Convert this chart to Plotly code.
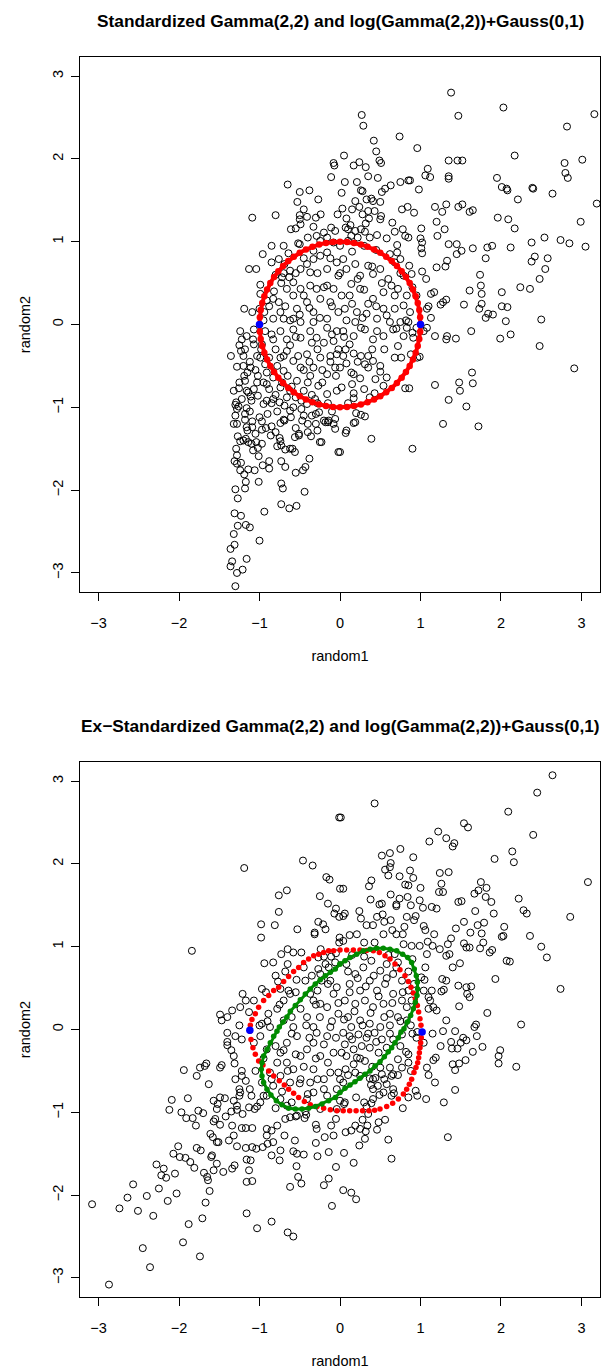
import plotly.graph_objects as go

FONT = "Liberation Sans"
TITLE_TOP = "Standardized Gamma(2,2) and log(Gamma(2,2))+Gauss(0,1)"
TITLE_BOTTOM = "Ex\u2212Standardized Gamma(2,2) and log(Gamma(2,2))+Gauss(0,1)"
X_LABEL = "random1"
Y_LABEL = "random2"
TICK_VALS = [-3, -2, -1, 0, 1, 2, 3]
TICK_TEXT = ["\u22123", "\u22122", "\u22121", "0", "1", "2", "3"]

# ---------------- top panel scatter (random1, random2) ----------------
top_upper_right = [
    (1.38, 2.80), (2.03, 2.62), (3.16, 2.54), (0.27, 2.53), (1.47, 2.52), (0.29, 2.40), (2.82, 2.39),
    (0.74, 2.27), (0.42, 2.22), (0.96, 2.13), (0.45, 2.09), (0.05, 2.04), (2.17, 2.04), (0.49, 1.98),
    (0.51, 1.95), (0.17, 1.92), (0.24, 1.96), (0.32, 1.90), (1.35, 1.98), (1.46, 1.98), (1.52, 1.98),
    (1.09, 1.88), (2.79, 1.95), (3.01, 1.99), (2.80, 1.83), (2.83, 1.77), (0.35, 1.79), (0.47, 1.77),
    (1.06, 1.80), (1.12, 1.78), (1.35, 1.79), (1.35, 1.76), (1.95, 1.77), (0.06, 1.72), (0.21, 1.72),
    (0.75, 1.72), (0.85, 1.74), (0.87, 1.74), (0.98, 1.63), (2.01, 1.66), (2.07, 1.64), (2.08, 1.62),
    (2.39, 1.65), (2.40, 1.64), (2.21, 1.51), (2.64, 1.58), (3.19, 1.46), (0.52, 1.60), (0.56, 1.64),
    (0.63, 1.68), (0.26, 1.62), (0.28, 1.61), (0.02, 1.59), (0.19, 1.49), (0.33, 1.51), (0.39, 1.52),
    (0.41, 1.49), (0.50, 1.48), (0.03, 1.40), (0.15, 1.39), (0.24, 1.42), (0.35, 1.37), (0.43, 1.37),
    (0.77, 1.39), (0.84, 1.42), (0.92, 1.35), (1.18, 1.42), (1.27, 1.36), (1.32, 1.45), (1.47, 1.42),
    (1.52, 1.45), (1.61, 1.36), (1.65, 1.38), (1.96, 1.29), (2.09, 1.27), (2.17, 1.16), (2.99, 1.24),
    (0.08, 1.28), (0.28, 1.33), (0.36, 1.28), (0.50, 1.27), (0.51, 1.31), (0.65, 1.23), (1.01, 1.16),
    (1.20, 1.24), (1.21, 1.07), (1.30, 1.15), (0.07, 1.17), (0.13, 1.20), (0.19, 1.13), (0.26, 1.15),
    (0.31, 1.12), (0.68, 1.12), (0.78, 1.15), (0.85, 1.05), (0.81, 1.07), (1.00, 1.04), (1.01, 0.92),
    (1.02, 0.99), (1.02, 0.86), (1.35, 0.97), (1.45, 0.97), (1.51, 0.89), (1.45, 0.85), (1.65, 0.92),
    (1.83, 0.93), (1.89, 0.95), (2.12, 0.93), (2.38, 0.99), (2.54, 1.05), (2.74, 1.02), (2.85, 0.98),
    (3.05, 0.94), (1.81, 0.80), (2.38, 0.76), (2.42, 0.82), (2.58, 0.80), (2.55, 0.67), (2.48, 0.55),
    (1.20, 0.69), (1.31, 0.70), (1.33, 0.77), (1.74, 0.60), (1.75, 0.47), (1.76, 0.37), (2.24, 0.45),
    (2.36, 0.43), (1.61, 0.41), (2.01, 0.39), (1.54, 0.24), (1.76, 0.25), (1.73, 0.19), (1.84, 0.13),
    (1.90, 0.12), (2.01, 0.22), (2.08, 0.21), (2.06, 0.04), (2.50, 0.06), (1.81, 0.08), (1.13, 0.37),
    (1.17, 0.39), (1.25, 0.24), (1.28, 0.27), (1.32, 0.30), (1.07, 0.55), (1.02, 0.64), (1.10, 0.22),
    (1.13, 0.08), (1.08, 0.19),
]
top_upper_inner = [
    (0.68, 0.75), (0.71, 0.87), (0.75, 0.79), (0.86, 0.71), (0.89, 0.61), (0.71, 0.96), (0.58, 1.04),
    (0.46, 1.08), (0.37, 1.05), (0.22, 1.05), (0.14, 1.07), (0.10, 1.01), (0.04, 0.79), (0.08, 0.67),
    (0.19, 0.73), (0.25, 0.59), (0.35, 0.71), (0.41, 0.61), (0.50, 0.67), (0.60, 0.55), (0.64, 0.47),
    (0.72, 0.43), (0.79, 0.59), (0.54, 0.39), (0.41, 0.31), (0.25, 0.43), (0.12, 0.35), (0.06, 0.19),
    (0.21, 0.15), (0.33, 0.13), (0.46, 0.07), (0.58, 0.11), (0.68, 0.19), (0.79, 0.23), (0.87, 0.15),
    (0.95, 0.35), (0.83, 0.35), (0.19, 0.03), (0.62, 0.03), (0.54, 0.19), (0.35, 0.25), (0.14, 0.49),
    (0.75, 0.03), (0.85, 0.03), (0.00, 0.95),
]
top_lower_right = [
    (2.91, -0.53), (2.48, -0.26), (1.99, -0.17), (2.12, -0.12), (1.63, -0.08), (1.44, -0.17),
    (1.32, -0.18), (1.33, -0.14), (1.18, -0.14), (1.64, -0.58), (1.65, -0.71), (1.48, -0.70),
    (1.49, -0.80), (1.18, -0.73), (1.35, -0.91), (1.57, -0.99), (1.28, -1.20), (1.72, -1.23),
    (0.90, -1.50), (0.39, -1.38), (0.81, -0.77), (0.86, -0.77), (0.99, -0.39), (0.96, -0.40),
    (0.68, -0.40), (0.76, -0.40), (0.72, -0.26), (0.88, -0.36), (0.58, -0.64), (0.54, -0.74),
    (0.44, -0.66), (0.43, -0.83), (0.37, -0.88), (0.20, -1.07), (0.26, -1.09), (0.31, -1.11),
    (0.17, -1.19), (0.19, -1.18), (0.08, -1.28), (0.07, -1.31), (0.00, -1.54), (0.17, -0.83),
    (0.17, -0.89), (0.15, -0.72), (0.14, -0.58), (0.17, -0.60), (0.50, -0.50), (0.50, -0.57),
    (0.35, -0.52), (0.31, -0.48), (0.41, -0.44), (0.26, -0.38), (0.35, -0.38), (0.17, -0.35),
    (0.07, -0.30), (0.04, -0.38), (0.08, -0.47), (0.00, -0.52), (0.02, -0.76), (0.91, -0.16),
    (0.90, -0.10), (0.95, -0.04), (1.04, -0.08), (1.08, -0.04), (0.66, -0.06), (0.79, -0.14),
    (0.83, -0.04), (0.54, -0.14), (0.46, -0.08), (0.41, -0.18), (0.31, -0.06), (0.26, -0.04),
    (0.17, -0.14), (0.12, -0.24), (0.04, -0.08),
]
top_lower_left = [
    (-1.30, -3.16), (-1.36, -2.92), (-1.28, -3.00), (-1.21, -2.96), (-1.34, -2.86), (-1.16, -2.83),
    (-1.36, -2.71), (-1.31, -2.66), (-1.32, -2.53), (-1.00, -2.61), (-1.27, -2.43), (-1.17, -2.42),
    (-1.12, -2.45), (-1.31, -2.28), (-1.23, -2.31), (-0.94, -2.26), (-0.73, -2.17), (-0.63, -2.22),
    (-0.54, -2.19), (-1.30, -1.99), (-1.27, -2.10), (-1.18, -1.98), (-1.17, -1.90), (-1.01, -1.90),
    (-0.73, -1.92), (-0.71, -1.98), (-0.44, -2.02), (-1.19, -1.81), (-1.24, -1.76), (-1.28, -1.68),
    (-1.31, -1.65), (-1.23, -1.67), (-1.14, -1.75), (-1.06, -1.76), (-0.96, -1.70), (-0.88, -1.74),
    (-0.88, -1.65), (-0.68, -1.72), (-0.73, -1.65), (-0.55, -1.79), (-0.46, -1.76), (-0.43, -1.72),
    (-0.38, -1.62), (-1.28, -1.58), (-1.29, -1.50), (-1.24, -1.41), (-1.14, -1.42), (-1.10, -1.44),
    (-1.08, -1.52), (-1.02, -1.49), (-0.97, -1.44), (-1.04, -1.42), (-1.01, -1.59), (-1.27, -1.35),
    (-1.20, -1.40), (-1.17, -1.38), (-0.78, -1.47), (-0.68, -1.51), (-0.62, -1.50), (-0.59, -1.50),
    (-0.56, -1.54), (-0.51, -1.34), (-0.56, -1.36), (-0.75, -1.37), (-0.73, -1.46), (-0.86, -1.34),
    (-0.80, -1.30), (-0.74, -1.41), (-0.36, -1.35), (-0.25, -1.42), (-0.23, -1.42), (-0.02, -1.54),
    (-1.32, -1.20), (-1.28, -1.20), (-1.16, -1.24), (-1.15, -1.28), (-1.30, -1.10), (-1.28, -1.02),
    (-1.16, -1.01), (-1.09, -1.17), (-1.09, -1.24), (-0.97, -1.17), (-0.97, -1.27), (-0.85, -1.23),
    (-0.74, -1.19), (-0.69, -1.16), (-0.61, -1.12), (-0.51, -1.32), (-0.47, -1.16), (-0.40, -1.20),
    (-0.30, -1.20), (-0.28, -1.28), (-0.18, -1.18), (-0.14, -1.16), (-0.06, -1.14), (-0.06, -1.26),
    (-1.355, -0.38), (-1.28, -0.51), (-1.23, -0.32), (-1.20, -0.38), (-1.19, -0.62), (-1.255, -0.77),
    (-1.29, -0.94), (-1.26, -0.99), (-1.30, -0.97), (-1.18, -1.08), (-1.16, -0.80), (-1.11, -0.87),
    (-1.10, -0.92), (-1.02, -0.86), (-0.95, -0.96), (-0.91, -0.92), (-0.83, -0.90), (-0.75, -0.94),
    (-0.69, -0.98), (-0.58, -1.00), (-0.48, -1.02), (-0.41, -0.96), (-0.35, -1.10), (-0.26, -1.06),
    (-0.20, -1.16), (-0.15, -1.18), (-0.08, -1.20),
]
top_lower_inner = [
    (-1.24, -0.08), (-1.16, -0.14), (-1.07, -0.06), (-1.22, -0.18), (-1.07, -0.24), (-1.03, -0.38),
    (-0.93, -0.48), (-0.91, -0.58), (-0.83, -0.64), (-0.91, -0.72), (-1.07, -0.78), (-0.99, -0.40),
    (-0.83, -0.18), (-0.74, -0.08), (-0.66, -0.18), (-0.58, -0.06), (-0.49, -0.16), (-0.37, -0.08),
    (-0.29, -0.16), (-0.16, -0.04), (-0.08, -0.20), (-0.12, -0.38), (-0.04, -0.36), (-0.245, -0.40),
    (-0.33, -0.52), (-0.37, -0.62), (-0.16, -0.60), (-0.06, -0.52), (-0.27, -0.74), (-0.16, -0.84),
    (-0.04, -0.80), (-0.74, -0.40), (-0.66, -0.32), (-0.58, -0.44), (-0.49, -0.52), (-0.41, -0.36),
    (-0.70, -0.56), (-0.535, -0.68), (-0.74, -0.76), (-0.62, -0.80), (-0.45, -0.80), (-0.80, -0.30),
    (-0.93, -0.08), (-0.04, -0.08), (-0.66, -0.88), (-0.31, -0.90), (-1.03, -0.70), (-1.11, -0.52),
    (-1.18, -0.68), (-0.97, -0.24),
]
top_upper_left = [
    (-0.08, 1.95), (-0.07, 1.92), (-0.11, 1.78), (-0.65, 1.69), (-0.50, 1.60), (-0.38, 1.62),
    (-0.53, 1.48), (-0.27, 1.51), (-0.45, 1.39), (-1.09, 1.29), (-0.80, 1.32), (-0.50, 1.32),
    (-0.50, 1.27), (-0.41, 1.30), (-0.30, 1.29), (-0.24, 1.33), (-0.03, 1.33), (-0.49, 1.21),
    (-0.61, 1.15), (-0.55, 1.16), (-0.33, 1.18), (-0.11, 1.17), (-0.20, 1.11), (-0.06, 1.13),
    (-0.52, 0.98), (-0.50, 0.97), (-0.96, 0.85), (-1.13, 0.67), (-1.04, 0.67), (-0.85, 0.75),
    (-0.76, 0.79), (-0.69, 0.73), (-0.64, 0.86), (-0.99, 0.48), (-0.99, 0.37), (-1.19, 0.19),
    (-1.09, 0.15), (-1.00, 0.19), (-0.94, 0.15), (-0.91, 0.29), (-0.83, 0.31), (-0.76, 0.27),
    (-0.73, 0.50), (-0.72, 0.57), (-0.63, 0.57), (-0.62, 0.65), (-0.58, 0.51), (-0.49, 0.67),
    (-0.41, 0.73), (-0.33, 0.79), (-0.245, 0.83), (-0.16, 0.87), (-0.245, 1.01), (-0.33, 0.89),
    (-0.29, 1.07), (-0.16, 1.05), (-0.08, 0.99), (-0.66, 0.43), (-0.58, 0.35), (-0.49, 0.43),
    (-0.37, 0.47), (-0.29, 0.43), (-0.16, 0.47), (-0.08, 0.43), (-0.02, 0.59), (-0.37, 0.63),
    (-0.16, 0.67), (-0.04, 0.75), (-0.535, 0.19), (-0.41, 0.27), (-0.33, 0.15), (-0.245, 0.31),
    (-0.12, 0.27), (-0.02, 0.15), (-0.70, 0.07), (-0.74, 0.15), (-0.83, 0.07), (-0.58, 0.07),
    (-0.49, 0.03), (-0.33, 0.03), (-0.16, 0.07),
]
# estimated positions in the densest, overlapping part of the top cloud
top_core = [
    (-1.25, -0.25), (-1.18, -0.30), (-1.12, -0.45), (-1.05, -0.55), (-1.20, -0.50), (-1.15, -0.58),
    (-1.02, -0.62), (-0.95, -0.70), (-0.88, -0.78), (-0.80, -0.85), (-0.72, -0.70), (-0.65, -0.62),
    (-0.60, -0.75), (-0.55, -0.88), (-0.48, -0.92), (-0.40, -0.70), (-0.35, -0.85), (-0.28, -0.95),
    (-0.22, -0.70), (-0.15, -0.95), (-0.10, -1.05), (-0.30, -1.08), (-0.45, -1.10), (-0.62, -1.04),
    (-0.78, -1.05), (-0.90, -1.08), (-1.00, -1.12), (-1.12, -1.05), (-1.22, -0.90), (-1.14, -0.82),
    (-0.98, -0.30), (-0.88, -0.40), (-0.78, -0.50), (-0.70, -0.38), (-0.62, -0.25), (-0.52, -0.38),
    (-0.45, -0.55), (-0.38, -0.45), (-0.28, -0.30), (-0.20, -0.22), (-0.12, -0.45), (-0.05, -0.62),
    (-0.22, -0.55), (-0.85, -0.95), (-0.70, -1.15), (-0.55, -1.25), (-0.40, -1.30), (-0.92, -1.25),
    (-1.05, -1.32), (-1.18, -1.15), (-1.25, -0.70), (-1.32, -0.80), (-1.08, -0.18), (-0.85, -0.12),
    (-0.55, -0.15), (-0.35, -0.22), (-0.10, -0.12), (-0.02, -0.30), (-0.95, 0.05), (-0.88, 0.22),
    (-0.82, 0.40), (-0.68, 0.22), (-0.62, 0.05), (-0.50, 0.12), (-0.45, 0.35), (-0.38, 0.20),
    (-0.25, 0.08), (-0.20, 0.45), (-0.10, 0.22), (0.02, 0.35), (0.08, 0.05), (0.15, 0.25),
    (0.28, 0.08), (0.30, 0.42), (0.45, 0.22), (0.52, 0.50), (0.68, 0.35), (0.75, 0.62),
    (0.62, 0.85), (0.45, 0.90), (0.30, 0.95), (0.15, 0.88), (0.00, 0.62), (-0.12, 0.80),
    (-0.28, 0.62), (-0.45, 0.80), (-0.55, 0.62), (-0.70, 0.62), (-0.80, 0.60), (0.22, 0.55),
    (0.40, 0.70), (0.10, 1.15), (0.32, 1.22), (-0.40, 1.05), (-0.70, 0.95), (-0.85, 0.95),
    (0.90, 0.45), (0.82, 0.05), (0.70, -0.05), (0.55, -0.30), (0.22, -0.45), (0.05, -0.15),
    (0.40, -0.30), (0.25, -0.65), (0.10, -0.95), (0.30, -0.78),
]

circle_x = [1.000, 0.996, 0.985, 0.966, 0.940, 0.906, 0.866, 0.819, 0.766, 0.707, 0.643, 0.574, 0.500, 0.423,
            0.342, 0.259, 0.174, 0.087, 0.000, -0.087, -0.174, -0.259, -0.342, -0.423, -0.500, -0.574, -0.643,
            -0.707, -0.766, -0.819, -0.866, -0.906, -0.940, -0.966, -0.985, -0.996, -1.000, -0.996, -0.985,
            -0.966, -0.940, -0.906, -0.866, -0.819, -0.766, -0.707, -0.643, -0.574, -0.500, -0.423, -0.342,
            -0.259, -0.174, -0.087, 0.000, 0.087, 0.174, 0.259, 0.342, 0.423, 0.500, 0.574, 0.643, 0.707,
            0.766, 0.819, 0.866, 0.906, 0.940, 0.966, 0.985, 0.996, 1.000]
circle_y = [0.000, 0.087, 0.174, 0.259, 0.342, 0.423, 0.500, 0.574, 0.643, 0.707, 0.766, 0.819, 0.866, 0.906,
            0.940, 0.966, 0.985, 0.996, 1.000, 0.996, 0.985, 0.966, 0.940, 0.906, 0.866, 0.819, 0.766, 0.707,
            0.643, 0.574, 0.500, 0.423, 0.342, 0.259, 0.174, 0.087, 0.000, -0.087, -0.174, -0.259, -0.342,
            -0.423, -0.500, -0.574, -0.643, -0.707, -0.766, -0.819, -0.866, -0.906, -0.940, -0.966, -0.985,
            -0.996, -1.000, -0.996, -0.985, -0.966, -0.940, -0.906, -0.866, -0.819, -0.766, -0.707, -0.643,
            -0.574, -0.500, -0.423, -0.342, -0.259, -0.174, -0.087, 0.000]
top_blue_x = [-1.0, 1.0]
top_blue_y = [0.0, 0.0]

# ---------------- bottom panel scatter ----------------
bot_upper_right = [
    (2.64, 3.07), (2.45, 2.86), (2.09, 2.63), (0.43, 2.73), (0.01, 2.56), (1.54, 2.49), (1.59, 2.44),
    (2.40, 2.35), (1.22, 2.39), (1.32, 2.31), (1.11, 2.27), (1.42, 2.25), (1.40, 2.21), (2.14, 2.15),
    (2.16, 2.02), (1.92, 2.06), (3.08, 1.78), (0.52, 2.10), (0.62, 2.13), (0.75, 2.18), (0.91, 2.08),
    (0.63, 2.01), (0.62, 1.96), (0.56, 1.93), (0.60, 1.86), (0.87, 1.92), (0.74, 1.85), (0.91, 1.83),
    (1.24, 1.89), (1.35, 1.90), (0.39, 1.80), (0.36, 1.73), (0.81, 1.75), (0.85, 1.74), (1.00, 1.71),
    (1.26, 1.76), (1.23, 1.66), (1.28, 1.66), (1.75, 1.78), (1.82, 1.71), (1.72, 1.68), (1.67, 1.64),
    (1.81, 1.60), (0.04, 1.70), (0.63, 1.63), (0.74, 1.58), (0.84, 1.60), (0.99, 1.56), (0.88, 1.50),
    (0.52, 1.52), (0.49, 1.51), (0.38, 1.57), (0.70, 1.49), (0.70, 1.51), (1.03, 1.47), (1.14, 1.48),
    (1.20, 1.46), (1.47, 1.54), (1.51, 1.55), (1.88, 1.54), (1.91, 1.40), (1.68, 1.43), (2.22, 1.58),
    (2.28, 1.44), (2.32, 1.40), (2.86, 1.36), (2.36, 1.13), (2.50, 1.00), (2.57, 0.87), (2.74, 0.49),
    (1.93, 0.61), (2.07, 0.83), (2.11, 0.82), (2.04, 1.24), (2.01, 1.12), (2.03, 1.13), (1.79, 1.29),
    (1.71, 1.26), (1.76, 1.16), (1.78, 1.05), (1.89, 0.96), (1.86, 0.93), (1.74, 0.98), (1.61, 0.99),
    (1.57, 0.99), (1.54, 1.30), (1.62, 1.17), (1.54, 1.04), (1.44, 1.22), (1.38, 1.10), (1.49, 0.80),
    (1.40, 0.75), (1.36, 0.91), (1.32, 0.89), (1.34, 1.03), (1.24, 0.97), (1.83, 0.20), (1.69, 0.06),
    (1.67, 0.03), (1.48, 0.28), (1.61, 0.39), (1.58, 0.43), (1.63, 0.52), (1.57, 0.51), (1.47, 0.53),
    (1.32, 0.59), (1.29, 0.48), (1.26, 0.46), (1.27, 0.61), (2.25, 0.06), (1.32, 0.11), (1.20, 0.23),
    (1.16, 0.27), (1.12, 0.35), (1.10, 0.39), (1.14, 0.47), (1.04, 0.47), (1.01, 0.63), (1.06, 0.75),
    (1.08, 0.91), (1.15, 1.01), (1.17, 1.15), (1.09, 1.06), (0.99, 1.01), (0.94, 1.37), (1.04, 1.25),
    (1.06, 1.20), (0.92, 1.32), (0.83, 1.36), (0.80, 1.24), (0.78, 1.15), (0.65, 1.20), (0.63, 1.32),
    (0.55, 1.30), (0.53, 1.39), (0.46, 1.36), (0.41, 1.26), (0.33, 1.26), (0.26, 1.34), (0.24, 1.43),
    (0.06, 1.40), (0.04, 1.37), (0.12, 1.14), (0.21, 1.15), (0.04, 1.07), (0.43, 1.05), (0.30, 1.05),
    (0.54, 1.15), (0.70, 1.15), (0.79, 1.03), (0.89, 1.01), (0.68, 0.91), (0.72, 0.81),
]
bot_upper_inner = [
    (0.08, 0.79), (0.19, 0.67), (0.29, 0.75), (0.39, 0.83), (0.50, 0.71), (0.58, 0.79), (0.66, 0.67),
    (0.77, 0.59), (0.85, 0.47), (0.12, 0.55), (0.25, 0.47), (0.37, 0.59), (0.46, 0.47), (0.56, 0.55),
    (0.66, 0.43), (0.77, 0.35), (0.06, 0.35), (0.19, 0.31), (0.31, 0.35), (0.41, 0.27), (0.54, 0.31),
    (0.62, 0.19), (0.72, 0.15), (0.83, 0.11), (0.10, 0.15), (0.25, 0.11), (0.37, 0.07), (0.50, 0.03),
    (0.62, 0.05), (0.14, 0.03), (0.83, 0.27), (0.89, 0.35),
]
bot_lower_right = [
    (2.19, -0.45), (1.99, -0.25), (1.97, -0.32), (1.97, -0.41), (1.77, -0.21), (1.70, -0.08),
    (1.65, -0.27), (1.56, -0.37), (1.48, -0.41), (1.40, -0.42), (1.43, -0.49), (1.25, -0.20),
    (1.38, -0.15), (1.39, -0.23), (1.46, -0.23), (1.50, -0.16), (1.53, -0.10), (1.57, -0.13),
    (1.43, -0.02), (1.28, -0.02), (1.43, -0.73), (1.18, -0.64), (1.29, -0.88), (1.34, -1.30),
    (1.07, -0.84), (0.96, -0.80), (0.94, -0.74), (1.08, -0.46), (1.04, -0.16), (0.96, -0.03),
    (0.90, -0.05), (1.19, -0.34), (1.16, -0.37), (0.85, -0.82), (0.78, -0.95), (0.60, -1.33),
    (0.64, -1.56), (0.56, -1.09), (0.48, -1.12), (0.46, -1.21), (0.28, -1.09), (0.34, -1.16),
    (0.32, -1.23), (0.31, -1.32), (0.19, -1.16), (0.25, -1.20), (0.14, -1.22), (0.07, -1.24),
    (0.24, -1.40), (0.05, -1.49), (0.17, -1.61), (0.04, -1.94), (0.14, -1.97), (0.20, -2.05),
    (0.72, -0.36), (0.82, -0.27), (0.77, -0.46), (0.88, -0.50), (0.85, -0.40), (0.66, -0.72),
    (0.67, -0.77), (0.64, -0.80), (0.54, -0.76), (0.49, -0.79), (0.41, -0.84), (0.30, -0.88),
    (0.33, -0.93), (0.39, -0.89), (0.41, -0.72), (0.385, -0.67), (0.47, -0.68), (0.52, -0.54),
    (0.50, -0.46), (0.62, -0.46), (0.66, -0.54), (0.64, -0.56), (0.58, -0.66), (0.41, -0.60),
    (0.37, -0.59), (0.44, -0.585), (0.25, -0.56), (0.19, -0.52), (0.17, -0.42), (0.07, -0.48),
    (0.04, -0.64), (0.00, -0.86), (0.06, -0.88), (0.04, -0.04), (0.12, -0.08), (0.23, -0.06),
    (0.33, -0.10), (0.43, -0.04), (0.52, -0.12), (0.06, -0.18), (0.17, -0.24), (0.27, -0.20),
    (0.37, -0.22), (0.48, -0.28), (0.08, -0.32), (0.21, -0.34), (0.31, -0.38), (0.58, -0.22),
    (0.66, -0.12), (0.77, -0.06),
]
bot_lower_left = [
    (-2.87, -3.08), (-3.08, -2.11), (-2.74, -2.16), (-2.64, -2.03), (-2.57, -1.87), (-2.51, -2.19),
    (-2.40, -2.01), (-2.32, -2.25), (-2.25, -1.92), (-2.14, -2.07), (-2.03, -1.98), (-2.45, -2.64),
    (-2.36, -2.87), (-1.95, -2.57), (-1.74, -2.74), (-1.88, -2.35), (-1.71, -2.28), (-1.67, -2.09),
    (-1.62, -1.95), (-1.16, -2.22), (-1.03, -2.40), (-0.85, -2.32), (-0.65, -2.45), (-0.58, -2.50),
    (-0.10, -2.13), (-2.28, -1.63), (-2.19, -1.68), (-2.22, -1.76), (-2.16, -1.79), (-2.05, -1.74),
    (-2.07, -1.50), (-2.01, -1.41), (-1.99, -1.54), (-1.92, -1.55), (-1.86, -1.60), (-1.81, -1.67),
    (-1.78, -1.43), (-1.73, -1.46), (-1.69, -1.73), (-1.64, -1.82), (-1.65, -1.78), (-1.59, -1.52),
    (-1.60, -1.54), (-1.53, -1.62), (-1.57, -1.70), (-1.45, -1.72), (-1.34, -1.68), (-1.31, -1.64),
    (-1.16, -1.57), (-1.11, -1.58), (-1.13, -1.70), (-1.16, -1.84), (-1.09, -1.83), (-0.62, -1.90),
    (-0.54, -1.65), (-0.52, -1.78), (-0.48, -1.86), (-0.45, -1.51), (-0.20, -1.88), (-0.14, -1.80),
    (-0.05, -1.66), (-0.85, -1.52), (-0.74, -1.46), (-0.75, -1.58), (-0.69, -1.28), (-0.56, -1.34),
    (-0.535, -1.50), (-0.58, -1.47), (-0.28, -1.53), (-0.30, -1.37), (-0.14, -1.48), (-0.19, -1.30),
    (-0.08, -1.28), (-2.12, -0.97), (-2.09, -0.85), (-1.89, -0.83), (-1.97, -1.00), (-1.91, -1.07),
    (-1.83, -1.07), (-1.79, -1.16), (-1.76, -0.98), (-1.70, -1.01), (-1.63, -0.66), (-1.78, -0.56),
    (-1.94, -0.49), (-1.74, -0.46), (-1.66, -0.41), (-1.68, -0.44), (-1.57, -0.86), (-1.52, -0.90),
    (-1.55, -1.08), (-1.57, -1.11), (-1.49, -1.15), (-1.42, -1.05), (-1.35, -0.99), (-1.28, -0.97),
    (-1.28, -0.92), (-1.21, -1.02), (-1.34, -1.16), (-1.38, -1.34), (-1.32, -1.28), (-1.28, -1.41),
    (-1.22, -1.19), (-1.17, -1.19), (-1.09, -1.19), (-1.03, -0.93), (-1.06, -0.96), (-1.13, -0.94),
    (-1.61, -1.26), (-1.58, -1.30), (-1.53, -1.36), (-1.51, -1.36), (-1.40, -0.19), (-1.40, -0.15),
    (-1.30, -0.08), (-1.22, -0.12), (-1.40, -0.04), (-1.32, -0.32), (-1.47, -0.43), (-1.49, -0.46),
    (-1.31, -0.41), (-1.22, -0.50), (-1.22, -0.56), (-1.17, -0.62), (-1.12, -0.72), (-1.25, -0.72),
    (-1.24, -0.76), (-1.25, -0.80), (-1.32, -0.86), (-1.43, -0.83), (-1.53, -0.96), (-1.49, -0.82),
    (-1.17, -1.43), (-1.09, -1.42), (-1.04, -1.44), (-0.96, -1.42), (-0.90, -1.38), (-0.91, -1.28),
    (-0.85, -1.22), (-0.78, -1.16), (-0.83, -1.36), (-0.91, -1.20), (-0.68, -1.08), (-0.62, -1.06),
    (-0.535, -1.04), (-0.44, -1.07), (-0.42, -1.03), (-0.43, -0.99), (-0.29, -1.20), (-0.11, -1.16),
    (-0.05, -1.08),
]
bot_lower_inner = [
    (-1.07, -0.16), (-0.99, -0.08), (-0.91, -0.24), (-0.78, -0.40), (-0.74, -0.28), (-0.66, -0.40),
    (-0.58, -0.48), (-0.535, -0.08), (-0.49, -0.32), (-0.41, -0.24), (-0.33, -0.16), (-0.245, -0.32),
    (-0.16, -0.08), (-0.08, -0.28), (-0.02, -0.52), (-0.12, -0.52), (-0.20, -0.60), (-0.33, -0.48),
    (-0.37, -0.64), (-0.49, -0.60), (-0.62, -0.64), (-0.74, -0.56), (-0.83, -0.68), (-0.91, -0.80),
    (-0.99, -0.88), (-0.74, -0.84), (-0.66, -0.92), (-0.41, -0.84), (-0.33, -0.76), (-0.16, -0.80),
    (-0.04, -0.72), (-0.04, -0.96), (-0.245, -0.96), (-0.87, -0.52), (-0.97, -0.64), (-0.66, -0.16),
    (-0.29, -0.04),
]
bot_upper_left = [
    (-0.01, 2.56), (-1.19, 1.95), (-0.46, 2.04), (-0.34, 1.98), (-0.17, 1.84), (-0.13, 1.81),
    (-0.66, 1.68), (-0.76, 1.62), (-0.25, 1.61), (-0.15, 1.52), (-0.76, 1.42), (-0.05, 1.46),
    (-0.07, 1.40), (-0.01, 1.36), (-0.27, 1.30), (-0.21, 1.27), (-0.18, 1.21), (-0.315, 1.17),
    (-0.315, 1.15), (-0.53, 1.21), (-0.98, 1.27), (-0.81, 1.26), (-0.98, 1.11), (-1.84, 0.95),
    (-0.94, 0.80), (-0.83, 0.81), (-0.73, 0.91), (-0.65, 0.97), (-0.58, 0.93), (-0.48, 0.93),
    (-0.65, 0.79), (-0.24, 0.97), (-0.11, 0.88), (-0.01, 1.05), (-0.005, 1.11), (0.00, 1.70),
    (-0.97, 0.49), (-1.21, 0.43), (-1.07, 0.35), (-1.24, 0.27), (-1.17, 0.35), (-1.13, 0.21),
    (-1.49, 0.18), (-1.47, 0.11), (-1.40, 0.15), (-1.34, 0.23), (-0.77, 0.58), (-0.74, 0.49),
    (-0.64, 0.47), (-0.62, 0.43), (-0.54, 0.60), (-0.43, 0.59), (-0.37, 0.43), (-0.28, 0.47),
    (-0.23, 0.59), (-0.12, 0.59), (-0.04, 0.51), (-0.89, 0.19), (-0.78, 0.25), (-0.70, 0.35),
    (-0.60, 0.15), (-0.49, 0.25), (-0.41, 0.15), (-0.33, 0.35), (-0.245, 0.31), (-0.16, 0.27),
    (-0.08, 0.43), (-0.02, 0.19), (-0.70, 0.11), (-0.58, 0.03), (-0.33, 0.03), (-0.12, 0.03),
    (-0.97, 0.07), (-0.87, 0.03), (-0.27, 0.87), (-0.18, 0.79), (-0.27, 0.73), (-0.245, 0.67),
    (-0.14, 0.75), (-0.06, 0.81),
]
# estimated positions in the densest, overlapping part of the bottom cloud
bot_core = [
    (-1.05, -0.50), (-0.95, -0.35), (-0.85, -0.60), (-0.80, -0.20), (-0.72, -0.75), (-0.65, -0.50),
    (-0.60, -0.05), (-0.55, -0.30), (-0.50, -0.65), (-0.45, -0.45), (-0.42, 0.05), (-0.38, -0.10),
    (-0.30, -0.35), (-0.28, -0.60), (-0.25, 0.15), (-0.20, -0.18), (-0.15, -0.40), (-0.10, 0.10),
    (-0.05, -0.10), (-0.02, 0.32), (0.02, -0.28), (0.05, 0.12), (0.10, -0.55), (0.12, 0.45),
    (0.15, -0.12), (0.18, 0.22), (0.22, 0.62), (0.25, -0.35), (0.28, 0.05), (0.32, 0.52),
    (0.35, -0.05), (0.38, 0.20), (0.42, 0.65), (0.45, -0.15), (0.48, 0.40), (0.55, 0.15),
    (0.58, 0.62), (0.62, -0.05), (0.65, 0.32), (0.70, 0.75), (0.75, 0.10), (0.78, 0.45),
    (0.85, 0.70), (0.88, 0.05), (0.92, 0.55), (-0.90, 0.10), (-0.75, 0.30), (-0.68, 0.70),
    (-0.55, 0.45), (-0.45, 0.75), (-0.35, 0.65), (-0.20, 0.88), (-0.05, 0.92), (0.15, 0.90),
    (0.30, 0.88), (-0.95, -0.80), (-0.80, -0.95), (-0.60, -0.88), (-0.40, -0.78), (-0.20, -0.72),
    (0.00, -0.60), (0.20, -0.82), (0.40, -0.45), (0.55, -0.60), (0.72, -0.55), (0.85, -0.30),
    (0.95, -0.10), (0.75, -0.20), (-1.10, -0.80), (-1.00, 0.05), (-0.70, -0.25), (-0.30, 0.30),
    (0.10, 0.70), (-0.15, 0.55), (0.60, 0.90), (0.90, 0.85), (1.05, 0.60), (1.10, 0.25),
    (1.15, -0.05), (1.10, -0.55), (-1.30, -0.60), (-1.35, -0.25), (-1.25, 0.05), (-0.80, 0.65),
    (-0.92, 0.45), (0.05, -0.90), (0.35, -1.02), (-0.55, -1.05), (-0.30, -1.15),
]

# red contour of the ex-standardized pair
ring_red = [
    (-1.12, -0.02), (-1.106, -0.12), (-1.081, -0.22), (-1.052, -0.30), (-1.011, -0.38), (-0.957, -0.43),
    (-0.886, -0.50), (-0.824, -0.56), (-0.754, -0.62), (-0.692, -0.67), (-0.638, -0.72), (-0.576, -0.77),
    (-0.514, -0.82), (-0.443, -0.87), (-0.369, -0.91), (-0.286, -0.93), (-0.203, -0.95), (-0.120, -0.97),
    (-0.038, -0.98), (0.04, -0.98), (0.12, -0.98), (0.20, -0.98), (0.28, -0.98), (0.36, -0.98),
    (0.43, -0.975), (0.497, -0.96), (0.580, -0.93), (0.654, -0.89), (0.725, -0.84), (0.787, -0.78),
    (0.828, -0.72), (0.861, -0.66), (0.890, -0.60), (0.919, -0.52), (0.944, -0.46), (0.965, -0.40),
    (0.977, -0.34), (0.986, -0.28), (0.994, -0.22), (1.002, -0.16), (1.010, -0.10), (1.006, 0.05),
    (0.994, 0.13), (0.977, 0.21), (0.961, 0.29), (0.936, 0.37), (0.911, 0.44), (0.882, 0.51),
    (0.849, 0.58), (0.807, 0.65), (0.745, 0.72), (0.683, 0.79), (0.621, 0.85), (0.559, 0.89),
    (0.489, 0.93), (0.414, 0.95), (0.331, 0.955), (0.248, 0.96), (0.166, 0.96), (0.083, 0.96),
    (0.000, 0.96), (-0.079, 0.95), (-0.141, 0.95), (-0.203, 0.93), (-0.265, 0.91), (-0.327, 0.89),
    (-0.390, 0.85), (-0.452, 0.81), (-0.514, 0.75), (-0.576, 0.70), (-0.638, 0.64), (-0.700, 0.58),
    (-0.762, 0.51), (-0.824, 0.47), (-0.886, 0.41), (-0.949, 0.35), (-1.011, 0.27), (-1.052, 0.19),
    (-1.094, 0.12), (-1.114, 0.05),
]
# green contour
ring_green = [
    (0.000, 0.79), (0.062, 0.83), (0.124, 0.87), (0.207, 0.91), (0.290, 0.95), (0.373, 0.97), (0.455, 0.98),
    (0.538, 0.98), (0.621, 0.97), (0.704, 0.95), (0.778, 0.91), (0.841, 0.87), (0.890, 0.81), (0.923, 0.73),
    (0.948, 0.65), (0.961, 0.57), (0.965, 0.49), (0.957, 0.41), (0.936, 0.33), (0.911, 0.25), (0.878, 0.17),
    (0.836, 0.09), (0.795, 0.01), (0.758, -0.03), (0.725, -0.10), (0.683, -0.16), (0.642, -0.22),
    (0.600, -0.27), (0.551, -0.33), (0.497, -0.39), (0.435, -0.44), (0.373, -0.50), (0.311, -0.54),
    (0.248, -0.59), (0.186, -0.63), (0.124, -0.67), (0.062, -0.71), (0.000, -0.76), (-0.058, -0.82),
    (-0.141, -0.86), (-0.224, -0.90), (-0.307, -0.93), (-0.390, -0.95), (-0.472, -0.96), (-0.555, -0.96),
    (-0.638, -0.95), (-0.721, -0.91), (-0.791, -0.86), (-0.858, -0.79), (-0.907, -0.72), (-0.949, -0.64),
    (-0.969, -0.56), (-0.978, -0.48), (-0.969, -0.40), (-0.949, -0.32), (-0.907, -0.24), (-0.866, -0.16),
    (-0.824, -0.08), (-0.783, -0.02), (-0.754, 0.03), (-0.708, 0.09), (-0.659, 0.15), (-0.617, 0.22),
    (-0.555, 0.29), (-0.493, 0.36), (-0.431, 0.43), (-0.369, 0.49), (-0.307, 0.55), (-0.245, 0.60),
    (-0.183, 0.65), (-0.120, 0.69), (-0.058, 0.73), (0.000, 0.79),
]
bot_blue_x = [-1.12, 1.02]
bot_blue_y = [-0.01, -0.03]

top_points = (top_upper_right + top_upper_inner + top_lower_right + top_lower_left
              + top_lower_inner + top_upper_left + top_core)
bot_points = (bot_upper_right + bot_upper_inner + bot_lower_right + bot_lower_left
              + bot_lower_inner + bot_upper_left + bot_core)


def xs(pts):
    return [p[0] for p in pts]


def ys(pts):
    return [p[1] for p in pts]


fig = go.Figure()
open_marker = dict(symbol="circle-open", size=7, color="black", line=dict(width=1, color="black"))

for pts, xa, ya in [(top_points, "x", "y"), (bot_points, "x2", "y2")]:
    fig.add_trace(go.Scatter(x=xs(pts), y=ys(pts), mode="markers", marker=open_marker,
                             xaxis=xa, yaxis=ya, showlegend=False, hoverinfo="skip"))

fig.add_trace(go.Scatter(x=circle_x, y=circle_y, mode="lines+markers",
                         line=dict(color="#FF0000", width=4),
                         marker=dict(symbol="circle", size=6.5, color="#FF0000"),
                         xaxis="x", yaxis="y", showlegend=False, hoverinfo="skip"))
fig.add_trace(go.Scatter(x=top_blue_x, y=top_blue_y, mode="markers",
                         marker=dict(symbol="circle", size=7.5, color="#0000FF"),
                         xaxis="x", yaxis="y", showlegend=False, hoverinfo="skip"))

fig.add_trace(go.Scatter(x=xs(ring_red), y=ys(ring_red), mode="markers",
                         marker=dict(symbol="circle", size=5.5, color="#FF0000"),
                         xaxis="x2", yaxis="y2", showlegend=False, hoverinfo="skip"))
fig.add_trace(go.Scatter(x=xs(ring_green), y=ys(ring_green), mode="lines+markers",
                         line=dict(color="#008B00", width=3),
                         marker=dict(symbol="circle", size=5.5, color="#008B00"),
                         xaxis="x2", yaxis="y2", showlegend=False, hoverinfo="skip"))
fig.add_trace(go.Scatter(x=bot_blue_x, y=bot_blue_y, mode="markers",
                         marker=dict(symbol="circle", size=7.5, color="#0000FF"),
                         xaxis="x2", yaxis="y2", showlegend=False, hoverinfo="skip"))

axis_common = dict(
    range=[-3.23, 3.23], tickmode="array", tickvals=TICK_VALS, ticktext=TICK_TEXT,
    showgrid=False, zeroline=False, showline=True, linecolor="black", linewidth=1, mirror=True,
    ticks="outside", ticklen=8, tickwidth=1, tickcolor="black",
    tickfont=dict(family=FONT, size=14.5, color="black"),
)
xcommon = dict(axis_common, ticklabelstandoff=10,
               title=dict(text=X_LABEL, font=dict(family=FONT, size=14.5, color="black"), standoff=20))
ycommon = dict(axis_common, tickangle=-90, ticklabelstandoff=2,
               title=dict(text=Y_LABEL, font=dict(family=FONT, size=14.5, color="black"), standoff=16))

H_PLOT = 1240.0
top_dom = [1 - 535 / H_PLOT, 1.0]
bot_dom = [0.0, 535 / H_PLOT]

fig.update_layout(
    width=604, height=1372,
    margin=dict(l=80, r=4, t=57, b=75),
    paper_bgcolor="white", plot_bgcolor="white",
    font=dict(family=FONT, color="black"),
    xaxis=dict(xcommon, domain=[0, 1], anchor="y"),
    yaxis=dict(ycommon, domain=top_dom, anchor="x"),
    xaxis2=dict(xcommon, domain=[0, 1], anchor="y2"),
    yaxis2=dict(ycommon, domain=bot_dom, anchor="x2"),
    annotations=[
        dict(text="<b>" + TITLE_TOP + "</b>", x=0.5, y=(1297 - 21) / H_PLOT, xref="paper", yref="paper",
             xanchor="center", yanchor="middle", showarrow=False, font=dict(family=FONT, size=17.3, color="black")),
        dict(text="<b>" + TITLE_BOTTOM + "</b>", x=0.5, y=(1297 - 726) / H_PLOT, xref="paper", yref="paper",
             xanchor="center", yanchor="middle", showarrow=False, font=dict(family=FONT, size=17.3, color="black")),
    ],
)

fig.write_html("out.html")
